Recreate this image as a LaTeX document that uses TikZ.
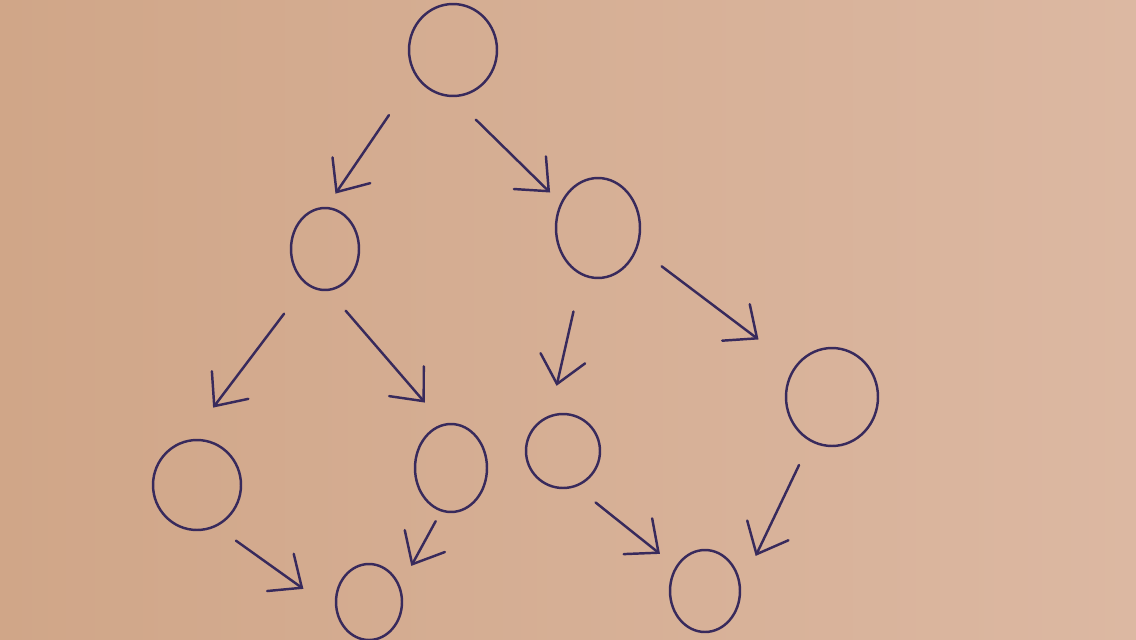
\documentclass[tikz,border=0pt]{standalone}
\usepackage{xcolor}
\usetikzlibrary{arrows.meta,shapes.geometric}
\definecolor{paperL}{RGB}{208,166,136}
\definecolor{paperR}{RGB}{220,184,162}
\definecolor{pen}{RGB}{56,42,92}

\begin{document}
\begin{tikzpicture}[x=0.02cm,y=-0.02cm,
    nd/.style={ellipse,draw=pen,line width=1.4pt,inner sep=0pt},
    arr/.style={draw=pen,line width=1.4pt,line cap=round,-{Straight Barb[length=15pt,width=26pt,line cap=round]}}]
    % paper
    \useasboundingbox (0,0) rectangle (1136,639);
    \shade[left color=paperL,right color=paperR] (0,0) rectangle (1136,639);

    % circles (sizes in cm)
    \node[nd,minimum width=1.76cm,minimum height=1.84cm] (top) at (453,50) {};
    \node[nd,minimum width=1.36cm,minimum height=1.64cm] (midL) at (325,249) {};
    \node[nd,minimum width=1.68cm,minimum height=2.0cm] (midR) at (598,228) {};
    \node[nd,minimum width=1.76cm,minimum height=1.8cm] (lowA) at (197,485) {};
    \node[nd,minimum width=1.44cm,minimum height=1.76cm] (lowB) at (451,468) {};
    \node[nd,minimum width=1.48cm,minimum height=1.48cm] (lowC) at (563,451) {};
    \node[nd,minimum width=1.84cm,minimum height=1.96cm] (lowD) at (832,397) {};
    \node[nd,minimum width=1.32cm,minimum height=1.52cm] (botL) at (369,602) {};
    \node[nd,minimum width=1.4cm,minimum height=1.64cm] (botR) at (705,591) {};

    % arrows
    \draw[arr,shorten <=0.94cm,shorten >=0.32cm] (top.-145) -- (midL.88);
    \draw[arr,shorten <=0.64cm,shorten >=0.29cm] (top.-90) -- (midR.146);
    \draw[arr,shorten <=0.73cm,shorten >=0.8cm] (midL.-118) -- (lowA.100);
    \draw[arr,shorten <=0.52cm,shorten >=0.56cm] (midL.-85) -- (lowB.100);
    \draw[arr,shorten <=0.74cm,shorten >=0.6cm] (midR.-109) -- (lowC.110);
    \draw[arr,shorten <=0.6cm,shorten >=0.9cm] (midR.-27) -- (lowD.141);
    \draw[arr,shorten <=0.48cm,shorten >=0.8cm] (lowA.-65) -- (botL.-163);
    \draw[arr,shorten <=0.22cm,shorten >=0.46cm] (lowB.-103) -- (botL.27);
    \draw[arr,shorten <=0.5cm,shorten >=0.4cm] (lowC.-70) -- (botR.140);
    \draw[arr,shorten <=0.52cm,shorten >=0.68cm] (lowD.-116) -- (botR.7);
\end{tikzpicture}
\end{document}
